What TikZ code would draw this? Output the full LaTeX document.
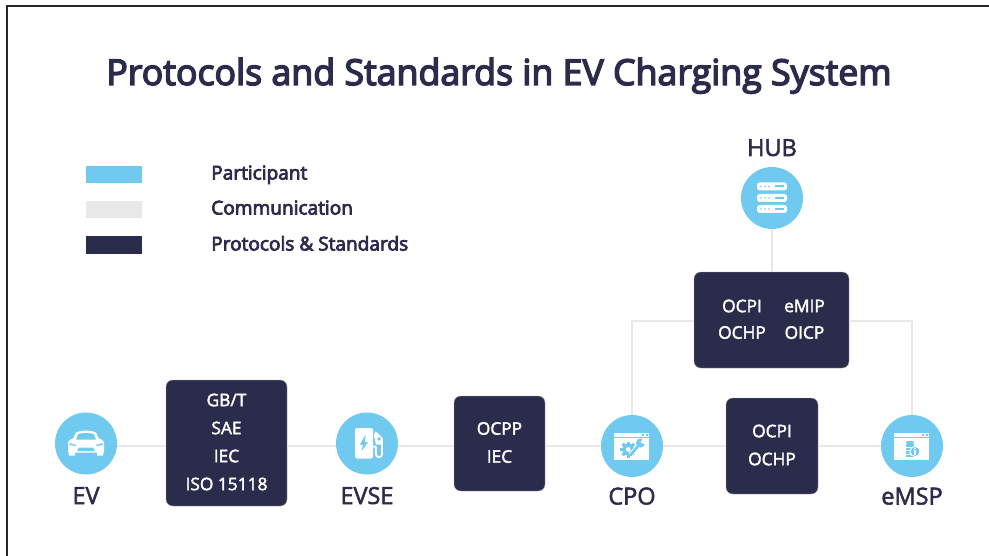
\documentclass[tikz,border=0pt]{standalone}
\usepackage{fontspec}
\setmainfont{Open Sans}
\newfontfamily\semib[FakeBold=4]{Open Sans}
\newfontfamily\medw[FakeBold=2.2]{Open Sans}
\definecolor{navy}{HTML}{2B2B4C}
\definecolor{sky}{HTML}{70C9EF}
\definecolor{lgray}{HTML}{E8E8E8}
\tikzset{
  part/.style={circle,fill=sky,minimum size=46.5pt,inner sep=0},
  proto/.style={rounded corners=5pt,fill=navy,draw=navy!40!white,line width=.3pt,text=white,font=\medw\fontsize{13}{21}\selectfont,align=center,inner sep=0},
  ptext/.style={text=white,font=\medw\fontsize{13}{16}\selectfont},
  comm/.style={draw=lgray,line width=2.1pt},
  lab/.style={text=navy,anchor=base,font=\medw\fontsize{17.6}{20}\selectfont},
  leg/.style={text=navy,anchor=base west,inner sep=0,font=\semib\fontsize{14.3}{16}\selectfont},
  swatch/.style={minimum width=42pt,minimum height=13pt,inner sep=0}
}
\begin{document}
\begin{tikzpicture}[x=.75pt,y=-.75pt]
\useasboundingbox (0,0) rectangle (989,556);
\draw[line width=1.5pt,color=black!85] (6.5,556) -- (6.5,6.5) -- (989,6.5);
\node[text=navy,anchor=base,font=\semib\fontsize{26.8}{32}\selectfont] (title) at (499,85) {Protocols and Standards in EV Charging System};
% legend
\node[swatch,fill=sky] (s1) at (114,174.5) {};
\node[swatch,fill=lgray] (s2) at (114,209.5) {};
\node[swatch,fill=navy] (s3) at (114,245) {};
\node[leg] (l1) at (211,179.5) {Participant};
\node[leg] (l2) at (211,214.5) {Communication};
\node[leg] (l3) at (211,250.5) {Protocols \& Standards};
% participants
\node[part] (ev) at (86,443.5) {};
\node[part] (evse) at (367,443.5) {};
\node[part] (cpo) at (632,446) {};
\node[part] (emsp) at (912,446) {};
\node[part] (hub) at (772,198) {};
% protocol boxes
\node[proto,minimum width=90.75pt,minimum height=94.5pt] (b1) at (226.5,443) {};
\node[proto,minimum width=68.25pt,minimum height=71.25pt] (b2) at (499.5,443.5) {};
\node[proto,minimum width=69pt,minimum height=72pt] (b3) at (772,446) {};
\node[proto,minimum width=116.25pt,minimum height=72pt] (b4) at (771.5,320) {};
\node[proto,fill=none,draw=none] (tb1) at (226.5,442) {GB/T\\SAE\\IEC\\ISO 15118};
\node[proto,fill=none,draw=none] (tb2) at (499.5,442.5) {OCPP\\IEC};
\node[proto,fill=none,draw=none] (tb3) at (772,445) {OCPI\\OCHP};
\node[ptext] (t1) at (742,306) {OCPI};
\node[ptext] (t2) at (804.5,306) {eMIP};
\node[ptext] (t3) at (742,332.5) {OCHP};
\node[ptext] (t4) at (804.5,332.5) {OICP};
% connectors
\draw[comm] (ev.east |- 0,446) -- (b1.west |- 0,446);
\draw[comm] (b1.east |- 0,446) -- (evse.west |- 0,446);
\draw[comm] (evse.east |- 0,446) -- (b2.west |- 0,446);
\draw[comm] (b2.east |- 0,446) -- (cpo.west);
\draw[comm] (cpo.east) -- (b3.west |- cpo.east);
\draw[comm] (b3.east |- emsp.west) -- (emsp.west);
\draw[comm] (hub.south) -- (b4.north -| hub.south);
\draw[comm] (b4.west |- 0,321) -- (cpo.north |- 0,321) -- (cpo.north);
\draw[comm] (b4.east |- 0,321) -- (emsp.north |- 0,321) -- (emsp.north);
% labels
\node[lab] (n1) at (86,504) {EV};
\node[lab] (n2) at (367,504) {EVSE};
\node[lab] (n3) at (632,504.5) {CPO};
\node[lab] (n4) at (912,504.5) {eMSP};
\node[lab] (n5) at (772,156) {HUB};
% EV icon
\begin{scope}[shift={(86,443.5)}]
\fill[white,even odd rule] (-18,7) -- (-18,-1) .. controls (-18,-4) and (-15,-4) .. (-13,-5) -- (-10,-11) .. controls (-5,-13.5) and (5,-13.5) .. (10,-11) -- (13,-5) .. controls (15,-4) and (18,-4) .. (18,-1) -- (18,7) -- (17,12) -- (11,12) -- (11,9) -- (-11,9) -- (-11,12) -- (-17,12) -- (-18,7) -- cycle
 (-10,-4) -- (10,-4) -- (8,-9.5) .. controls (3,-11) and (-3,-11) .. (-8,-9.5) -- cycle;
\fill[sky] (-9,7.5) -- (-7,4) -- (7,4) -- (9,7.5) -- cycle;
\fill[sky] (-16.5,-0.5) -- (-10,1.5) -- (-10,2.5) -- (-16.5,1.5) -- cycle;
\fill[sky] (16.5,-0.5) -- (10,1.5) -- (10,2.5) -- (16.5,1.5) -- cycle;
\end{scope}
% EVSE icon
\begin{scope}[shift={(367,443.5)}]
\fill[white,rounded corners=1.5pt] (-12,-15.5) rectangle (6,15);
\fill[sky] (-1.5,-9) -- (-7,1) -- (-4,1) -- (-5.5,8) -- (1,-1.5) -- (-2,-1.5) -- cycle;
\draw[white,line width=1.4pt,line cap=round,line join=round] (6,3) -- (8,3) .. controls (9,3) and (9,4) .. (9,6) -- (9,11) .. controls (9,14.5) and (15,14.5) .. (15,11) -- (15,-5);
\fill[white] (7,-8) -- (8,-12) -- (10,-11) -- (15,-6) -- (15.5,-1) -- (15.5,1) -- (9,1) -- cycle;
\fill[sky] (12,-4.5) circle (1.4pt);
\end{scope}
% CPO icon
\begin{scope}[shift={(632,446.5)}]
\fill[white] (-18,-13.5) rectangle (17,13.5);
\fill[sky] (-18,-9.5) rectangle (17,-8.9);
\fill[sky] (10,-12.3) rectangle (12,-10.5);
\fill[sky] (13.5,-12.3) rectangle (15.5,-10.5);
\begin{scope}[shift={(-3.7,3)}]
\foreach \a in {0,45,...,135}
 \fill[sky,rotate=\a] (-1.6,-8) rectangle (1.6,8);
\fill[sky] (0,0) circle (4.4pt);
\fill[white] (0,0) circle (1.8pt);
\end{scope}
\draw[white,line width=3.4pt] (-1.3,8.5) -- (8,-3);
\draw[sky,line width=2pt,line cap=round] (-1.3,8.5) -- (8,-3);
\fill[sky] (8.5,-3.5) circle (3.4pt);
\fill[white] (10.5,-8) -- (8.5,-3.5) -- (13,-2.5) -- (15,-6) -- cycle;
\end{scope}
% eMSP icon
\begin{scope}[shift={(912,446.5)}]
\fill[white] (-18,-13.5) rectangle (17,13.5);
\fill[sky] (-18,-9.5) rectangle (17,-8.9);
\fill[sky] (10,-12.3) rectangle (12,-10.5);
\fill[sky] (13.5,-12.3) rectangle (15.5,-10.5);
\fill[sky] (-2,-4) ellipse (3.2pt and 1.3pt);
\foreach \yy in {-1,2.5,6,9.5} \fill[sky] (-6.3,\yy-1.1) rectangle (2,\yy+1.1);
\fill[white] (3,5) circle (4.2pt);
\fill[sky] (3,5) circle (3.3pt);
\fill[white] (2.2,3.7) rectangle (3.8,8.4);
\fill[white] (2.2,1.6) rectangle (3.8,2.9);
\end{scope}
% HUB icon
\begin{scope}[shift={(772,198)}]
\foreach \yy in {-11.5,0,11} {
 \fill[white,rounded corners=2pt] (-15,\yy-4) rectangle (15,\yy+4);
 \fill[sky] (3,\yy-1) rectangle (12,\yy+1);
 \foreach \xx in {-11,-7,-3} \fill[sky] (\xx,\yy) circle (.7pt);
}
\end{scope}
\end{tikzpicture}
\end{document}
